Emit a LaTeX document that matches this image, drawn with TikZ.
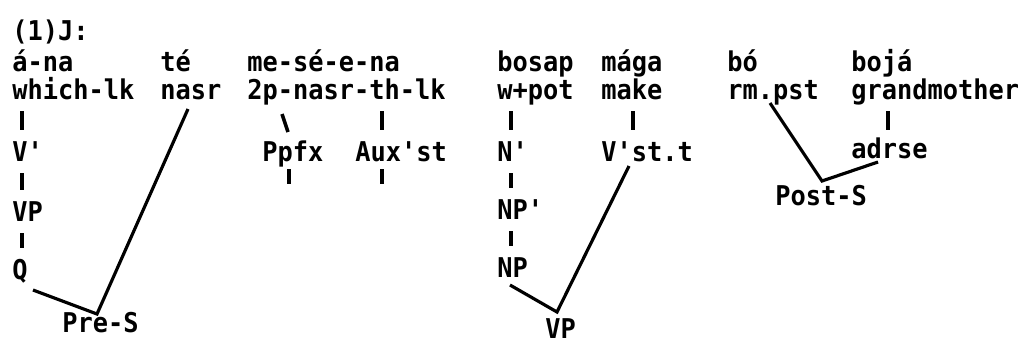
\documentclass[tikz,border=0pt]{standalone}
\usepackage{fontspec}
\setmonofont[FakeStretch=0.93]{DejaVu Sans Mono}
\usetikzlibrary{calc}
\tikzset{
  lbl/.style={anchor=base west,inner sep=0pt,font=\ttfamily\bfseries\fontsize{15.5}{18}\selectfont},
  edge/.style={line width=1.8pt},
  tick/.style={line width=2pt}
}
\begin{document}
\begin{tikzpicture}[x=0.02cm,y=-0.02cm]
        \useasboundingbox (0,0) rectangle (1027,349);
        % words and glosses
        \node[lbl] (ex) at (12,40) {(1)J:};
        \node[lbl] (ana) at (12,71) {á-na};
        \node[lbl] (te) at (160,71) {té};
        \node[lbl] (mesena) at (247,71) {me-sé-e-na};
        \node[lbl] (bosap) at (497,71) {bosap};
        \node[lbl] (maga) at (601,71) {mága};
        \node[lbl] (bo) at (727,71) {bó};
        \node[lbl] (boja) at (851,71) {bojá};
        \node[lbl] (which) at (12,99) {which-lk};
        \node[lbl] (nasr) at (160,99) {nasr};
        \node[lbl] (pnasr) at (247,99) {2p-nasr-th-lk};
        \node[lbl] (wpot) at (497,99) {w+pot};
        \node[lbl] (make) at (601,99) {make};
        \node[lbl] (rmpst) at (727,99) {rm.pst};
        \node[lbl] (grand) at (851,99) {grandmother};
        % categories
        \node[lbl] (vbar) at (12,161) {V'};
        \node[lbl] (ppfx) at (262,161) {Ppfx};
        \node[lbl] (auxst) at (355,161) {Aux'st};
        \node[lbl] (nbar) at (497,161) {N'};
        \node[lbl] (vstt) at (601,161) {V'st.t};
        \node[lbl] (adrse) at (851,158) {adrse};
        \node[lbl] (posts) at (775,205) {Post-S};
        \node[lbl] (vpa) at (12,221) {VP};
        \node[lbl] (npbar) at (497,219) {NP'};
        \node[lbl] (q) at (12,279) {Q};
        \node[lbl] (np) at (497,277) {NP};
        \node[lbl] (pres) at (62,332) {Pre-S};
        \node[lbl] (vpb) at (545,338) {VP};
        % joints
        \coordinate (preV) at ([shift={(35,-18)}]pres.base west);
        \coordinate (vpV) at ([shift={(12,-26)}]vpb.base west);
        \coordinate (postV) at ([shift={(47,-24)}]posts.base west);
        % bars
        \draw[tick] ([shift={(10,12)}]which.base west) -- ([shift={(10,-31)}]vbar.base west);
        \draw[tick] ([shift={(10,12)}]vbar.base west) -- ([shift={(10,-31)}]vpa.base west);
        \draw[tick] ([shift={(10,12)}]vpa.base west) -- ([shift={(10,-31)}]q.base west);
        \draw[tick] ([shift={(35,15)}]pnasr.base west) -- ([shift={(26,-29)}]ppfx.base west);
        \draw[tick] ([shift={(135,12)}]pnasr.base west) -- ([shift={(27,-31)}]auxst.base west);
        \draw[tick] ([shift={(27,8)}]ppfx.base west) -- ++(0,15);
        \draw[tick] ([shift={(27,8)}]auxst.base west) -- ++(0,15);
        \draw[tick] ([shift={(14,12)}]wpot.base west) -- ([shift={(14,-31)}]nbar.base west);
        \draw[tick] ([shift={(14,12)}]nbar.base west) -- ([shift={(14,-31)}]npbar.base west);
        \draw[tick] ([shift={(14,12)}]npbar.base west) -- ([shift={(14,-31)}]np.base west);
        \draw[tick] ([shift={(32,12)}]make.base west) -- ([shift={(32,-31)}]vstt.base west);
        \draw[tick] ([shift={(37,12)}]grand.base west) -- ([shift={(37,-28)}]adrse.base west);
        % branches
        \draw[edge] ([shift={(28,10)}]nasr.base west) -- (preV) -- ([shift={(21,11)}]q.base west);
        \draw[edge] ([shift={(13,8)}]np.base west) -- (vpV) -- ([shift={(28,5)}]vstt.base west);
        \draw[edge] ([shift={(43,4)}]rmpst.base west) -- (postV) -- ([shift={(27,4)}]adrse.base west);
\end{tikzpicture}
\end{document}
